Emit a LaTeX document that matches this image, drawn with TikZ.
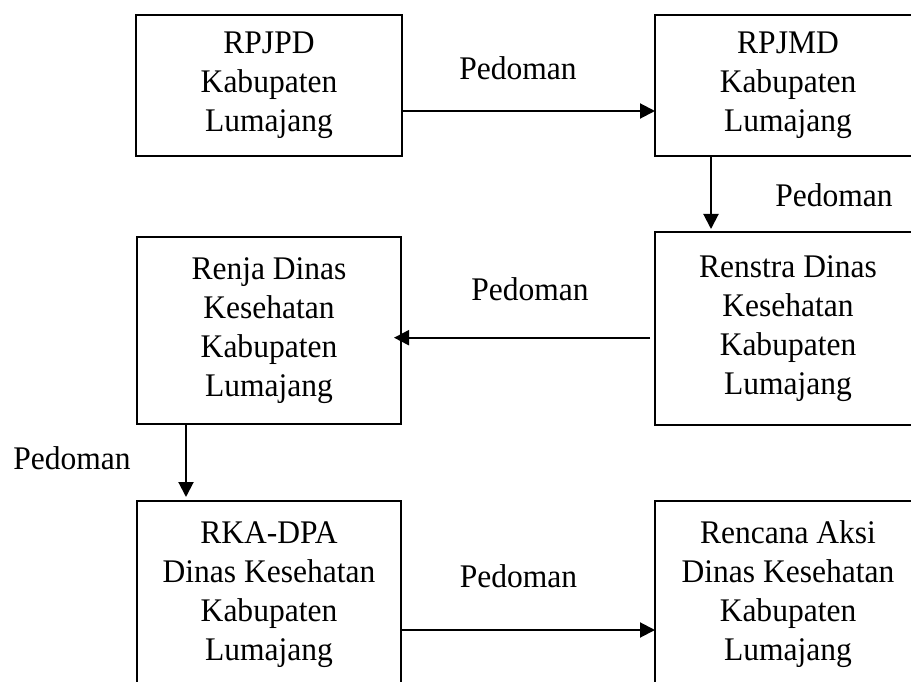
\documentclass[tikz,border=0pt]{standalone}
\usepackage{fontspec}
\setmainfont[FakeStretch=0.955]{Liberation Serif}
\usetikzlibrary{arrows.meta,calc}
\begin{document}
\begin{tikzpicture}[x=1pt,y=-1pt,
  box/.style={draw, line width=1.4pt, inner xsep=0pt, inner ysep=0pt, outer sep=0pt,
    align=center, anchor=north west, font=\fontsize{33}{39}\selectfont},
  lbl/.style={inner sep=0pt, anchor=base, font=\fontsize{33}{39}\selectfont},
  arr/.style={line width=2pt, -{Triangle[length=15pt,width=15pt]}}]
\useasboundingbox (0,0) rectangle (911,682);
\clip (0,0) rectangle (911,682);
% boxes
\node[box, minimum width=266pt, minimum height=141pt] (rpjpd) at (136,15) {RPJPD\\Kabupaten\\Lumajang};
\node[box, minimum width=266pt, minimum height=141pt] (rpjmd) at (655,15) {RPJMD\\Kabupaten\\Lumajang};
\node[box, minimum width=264pt, minimum height=187pt] (renja) at (137,237) {Renja Dinas\\Kesehatan\\Kabupaten\\Lumajang};
\node[box, minimum width=266pt, minimum height=193pt] (renstra) at (655,232) {Renstra Dinas\\Kesehatan\\Kabupaten\\Lumajang};
\node[box, minimum width=264pt, inner ysep=20.5pt] (rka) at (137,501) {RKA-DPA\\Dinas Kesehatan\\Kabupaten\\Lumajang\rule[-40pt]{0pt}{0pt}};
\node[box, minimum width=266pt, inner ysep=19.8pt] (raksi) at (655,501) {Rencana Aksi\\Dinas Kesehatan\\Kabupaten\\Lumajang\rule[-40pt]{0pt}{0pt}};
% connector anchor points
\coordinate (a1) at ($(rpjpd.north east)+(0,96)$);
\coordinate (a2) at ($(rpjmd.north west)+(56,141)$);
\coordinate (a2e) at ($(renstra.north west)+(56,-3)$);
\coordinate (a3) at ($(renstra.north west)+(-5,105.7)$);
\coordinate (a3e) at ($(a3 -| renja.east)+(-7,0)$);
\coordinate (a4) at ($(renja.south west)+(49,0)$);
\coordinate (a4e) at ($(rka.north west)+(49,-4)$);
\coordinate (a5) at ($(rka.north east)+(0,129)$);
% connectors
\draw[arr] (a1) -- (a1 -| rpjmd.west);
\draw[arr] (a2) -- (a2e);
\draw[arr] (a3) -- (a3e);
\draw[arr] (a4) -- (a4e);
\draw[arr] (a5) -- (a5 -| raksi.west);
% labels
\node[lbl] (l1) at (518,79.5) {Pedoman};
\node[lbl] (l2) at (834,206.5) {Pedoman};
\node[lbl] (l3) at (530,300) {Pedoman};
\node[lbl] (l4) at (72,469.5) {Pedoman};
\node[lbl] (l5) at (518.5,587) {Pedoman};
\end{tikzpicture}
\end{document}
